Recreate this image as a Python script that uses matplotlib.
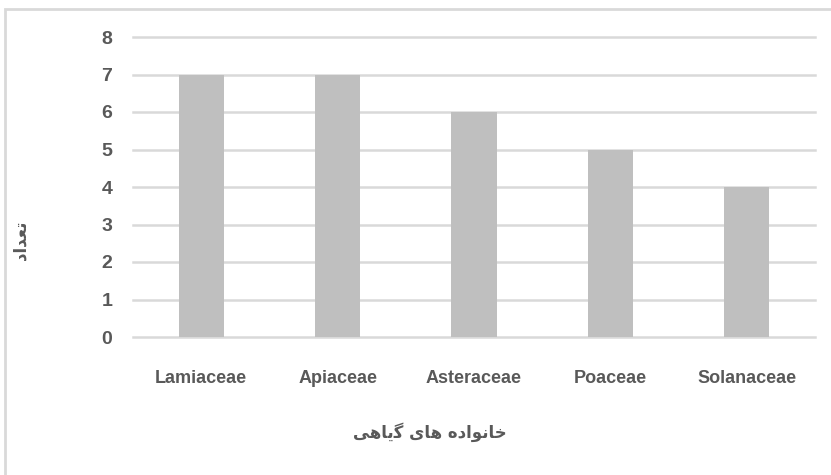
import matplotlib.pyplot as plt
from matplotlib.patches import Rectangle

families = ['Lamiaceae', 'Apiaceae', 'Asteraceae', 'Poaceae', 'Solanaceae']
counts = [7, 7, 6, 5, 4]
yticks = [0, 1, 2, 3, 4, 5, 6, 7, 8]

# persian labels, pre-shaped (presentation forms, visual order)
xlabel_fa = ''.join(reversed('\uFEA7\uFE8E\uFEE7\uFEEE\uFE8D\uFEA9\uFEE9 \uFEEB\uFE8E\uFBFC \uFB94\uFBFE\uFE8E\uFEEB\uFBFD'))
ylabel_fa = ''.join(reversed('\uFE97\uFECC\uFEAA\uFE8D\uFEA9'))

txt = '#595959'
fig = plt.figure(figsize=(8.31, 4.75), dpi=100)
# chart frame, only left and top edges show
fig.patches.append(Rectangle((5 / 831, -0.1), 1.0, 1.1 - 9 / 475, transform=fig.transFigure,
                             fill=False, edgecolor='#d9d9d9', linewidth=2))

ax = fig.add_axes([133 / 831, 1 - 337 / 475, (815 - 133) / 831, 300 / 475])
ax.bar(families, counts, width=0.33, color='#bfbfbf', zorder=2)
ax.set_ylim(0, 8)
ax.set_xlim(-0.5, len(families) - 0.5)
ax.set_yticks(yticks)
ax.grid(axis='y', color='#d9d9d9', linewidth=1.8, zorder=0)
for g in ax.get_ygridlines():
    g.set_clip_on(False)
for s in ax.spines.values():
    s.set_visible(False)
ax.tick_params(length=0)
ax.tick_params(axis='x', pad=24)
ax.tick_params(axis='y', pad=15)
for lb in ax.get_xticklabels():
    lb.set_fontfamily('Liberation Sans')
    lb.set_fontweight('bold')
    lb.set_fontsize(13)
    lb.set_color(txt)
for lb in ax.get_yticklabels():
    lb.set_fontfamily('Liberation Sans')
    lb.set_fontweight('bold')
    lb.set_fontsize(14)
    lb.set_color(txt)

fig.text(430 / 831, 1 - 432 / 475, xlabel_fa, ha='center', va='center', fontsize=12,
         fontweight='bold', color=txt, family=['DejaVu Sans'])
fig.text(20 / 831, 1 - 240 / 475, ylabel_fa, ha='center', va='center', rotation=90, fontsize=12,
         fontweight='bold', color=txt, family=['DejaVu Sans'])

fig.savefig('out.png', dpi=100)
